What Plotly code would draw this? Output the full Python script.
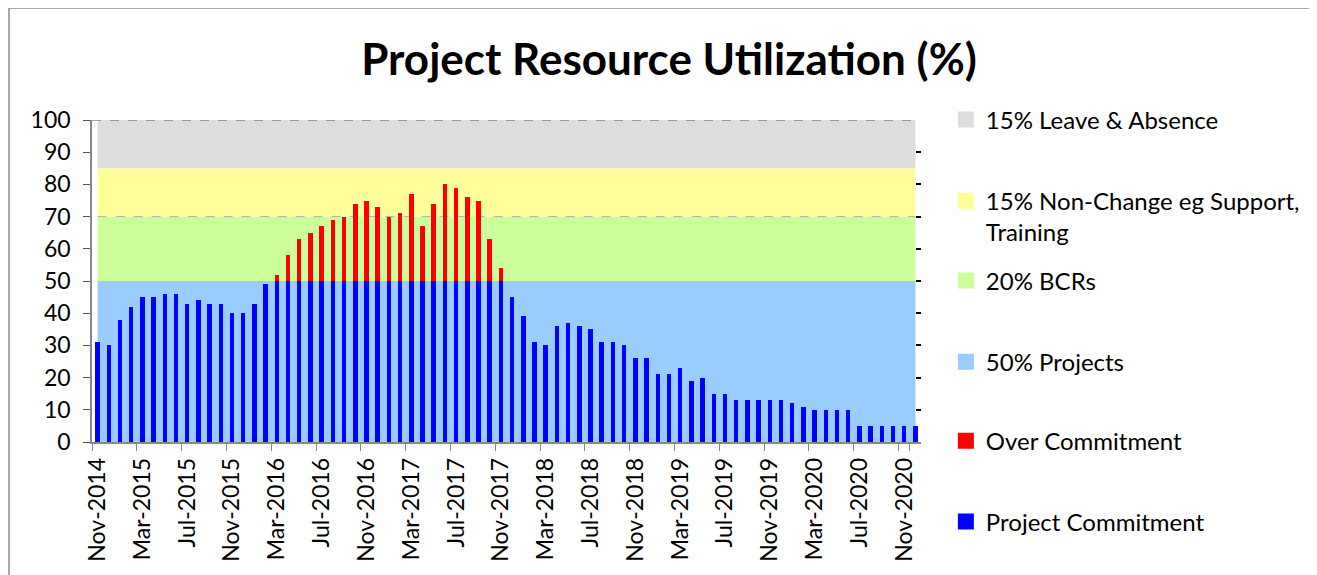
import pandas as pd
import plotly.graph_objects as go

# ---------------- data ----------------
months = list(pd.date_range("2014-11-01", periods=74, freq="MS").strftime("%b-%Y"))

project_commitment = [31, 30, 38, 42, 45, 45, 46, 46, 43, 44, 43, 43, 40, 40, 43, 49,
                      50, 50, 50, 50, 50, 50, 50, 50, 50, 50, 50, 50, 50, 50, 50, 50,
                      50, 50, 50, 50, 50,
                      45, 39, 31, 30, 36, 37, 36, 35, 31, 31, 30, 26, 26, 21, 21, 23,
                      19, 20, 15, 15, 13, 13, 13, 13, 13, 12, 11, 10, 10, 10, 10,
                      5, 5, 5, 5, 5, 5]
over_commitment = [0] * 16 + [2, 8, 13, 15, 17, 19, 20, 24, 25, 23, 20, 21, 27, 17, 24, 30,
                              29, 26, 25, 13, 4] + [0] * 37

band_projects = [50] * 74
band_bcrs = [20] * 74
band_nonchange = [15] * 74
band_leave = [15] * 74

band_names = ["50% Projects", "20% BCRs", "15% Non-Change eg Support,<br>Training",
              "15% Leave & Absence"]
band_colors = ["#99CCFF", "#CCFF99", "#FFFF99", "#DDDDDD"]
band_values = [band_projects, band_bcrs, band_nonchange, band_leave]

tick_labels = months[::4]

FONT = "Lato, 'Open Sans', sans-serif"

fig = go.Figure()

# background bands (stacked areas)
for name, col, vals in zip(band_names, band_colors, band_values):
    fig.add_trace(go.Scatter(x=months, y=vals, mode="none", stackgroup="bands",
                             fillcolor=col, line=dict(width=0), name=name,
                             showlegend=False, hoverinfo="skip",
                             xaxis="x", yaxis="y"))

# dashed reference line at 70
fig.add_trace(go.Scatter(x=[months[0], months[-1]], y=[70, 70], mode="lines",
                         line=dict(color="#B0B0B0", width=1, dash="dash"),
                         showlegend=False, hoverinfo="skip", xaxis="x", yaxis="y"))

# bars on overlaying axis so they sit above the bands
fig.add_trace(go.Bar(x=months, y=project_commitment, name="Project Commitment",
                     marker=dict(color="#0000FF", line=dict(width=0)),
                     showlegend=False, xaxis="x", yaxis="y2"))
fig.add_trace(go.Bar(x=months, y=over_commitment, name="Over Commitment",
                     marker=dict(color="#FF0000", line=dict(width=0)),
                     showlegend=False, xaxis="x", yaxis="y2"))

# legend entries (one legend per entry for exact placement)
legend_items = [
    ("15% Leave & Absence", "#DDDDDD", 1.0),
    ("15% Non-Change eg Support,<br>Training", "#FFFF99", 0.818),
    ("20% BCRs", "#CCFF99", 0.5),
    ("50% Projects", "#99CCFF", 0.248),
    ("Over Commitment", "#FF0000", 0.003),
    ("Project Commitment", "#0000FF", -0.248),
]
legend_layout = {}
for i, (name, col, ypos) in enumerate(legend_items):
    key = "legend" if i == 0 else f"legend{i+1}"
    fig.add_trace(go.Scatter(x=[None], y=[None], mode="markers", name=name,
                             marker=dict(symbol="square", size=16, color=col),
                             legend=key, showlegend=True, xaxis="x", yaxis="y"))
    legend_layout[key] = dict(x=1.030, y=ypos, xanchor="left",
                              yanchor="top" if "<br>" in name else "middle",
                              valign="top",
                              bgcolor="rgba(0,0,0,0)",
                              font=dict(family=FONT, size=24, color="#000000"))

fig.update_layout(
    width=1317, height=575,
    margin=dict(l=84, r=404, t=112, b=141),
    paper_bgcolor="white", plot_bgcolor="white",
    font=dict(family=FONT, color="#000000"),
    barmode="stack", bargap=0.6,
    title=dict(text="<b>Project Resource Utilization (%)</b>",
               x=661 / 1317, xref="container", xanchor="center",
               y=1 - 52 / 575, yref="container", yanchor="middle",
               font=dict(family=FONT, size=44, color="#000000")),
    xaxis=dict(type="category", categoryorder="array", categoryarray=months,
               range=[-0.5, 73.5],
               tickmode="array", tickvals=tick_labels, ticktext=tick_labels,
               tickangle=-90, tickson="boundaries",
               ticks="outside", ticklen=7, tickcolor="#888888",
               ticklabelstandoff=5,
               showline=True, linecolor="#888888", linewidth=1.5,
               showgrid=False, zeroline=False,
               tickfont=dict(family=FONT, size=23, color="#000000")),
    yaxis=dict(range=[0, 100], dtick=10, ticks="outside", ticklen=7,
               tickcolor="#555555", showline=True, linecolor="#888888",
               ticklabelstandoff=8,
               linewidth=1.5, showgrid=False, zeroline=False,
               tickfont=dict(family=FONT, size=23, color="#000000")),
    yaxis2=dict(range=[0, 100], dtick=10, overlaying="y", side="right",
                ticks="inside", ticklen=5, tickcolor="#000000", tickwidth=1.5,
                showline=False, showgrid=False, zeroline=False,
                showticklabels=False),
    shapes=[
        dict(type="line", xref="x", yref="y", x0=-0.5, x1=73, y0=100, y1=100,
             line=dict(color="#555555", width=1.2, dash="dash"), layer="above"),
        dict(type="rect", xref="paper", yref="paper", x0=-0.1001, x1=1.7,
             y0=-0.7, y1=1.348, line=dict(color="#8C8C8C", width=1.5),
             fillcolor="rgba(0,0,0,0)", layer="above"),
    ],
    **legend_layout,
)

fig.write_html("out.html")
